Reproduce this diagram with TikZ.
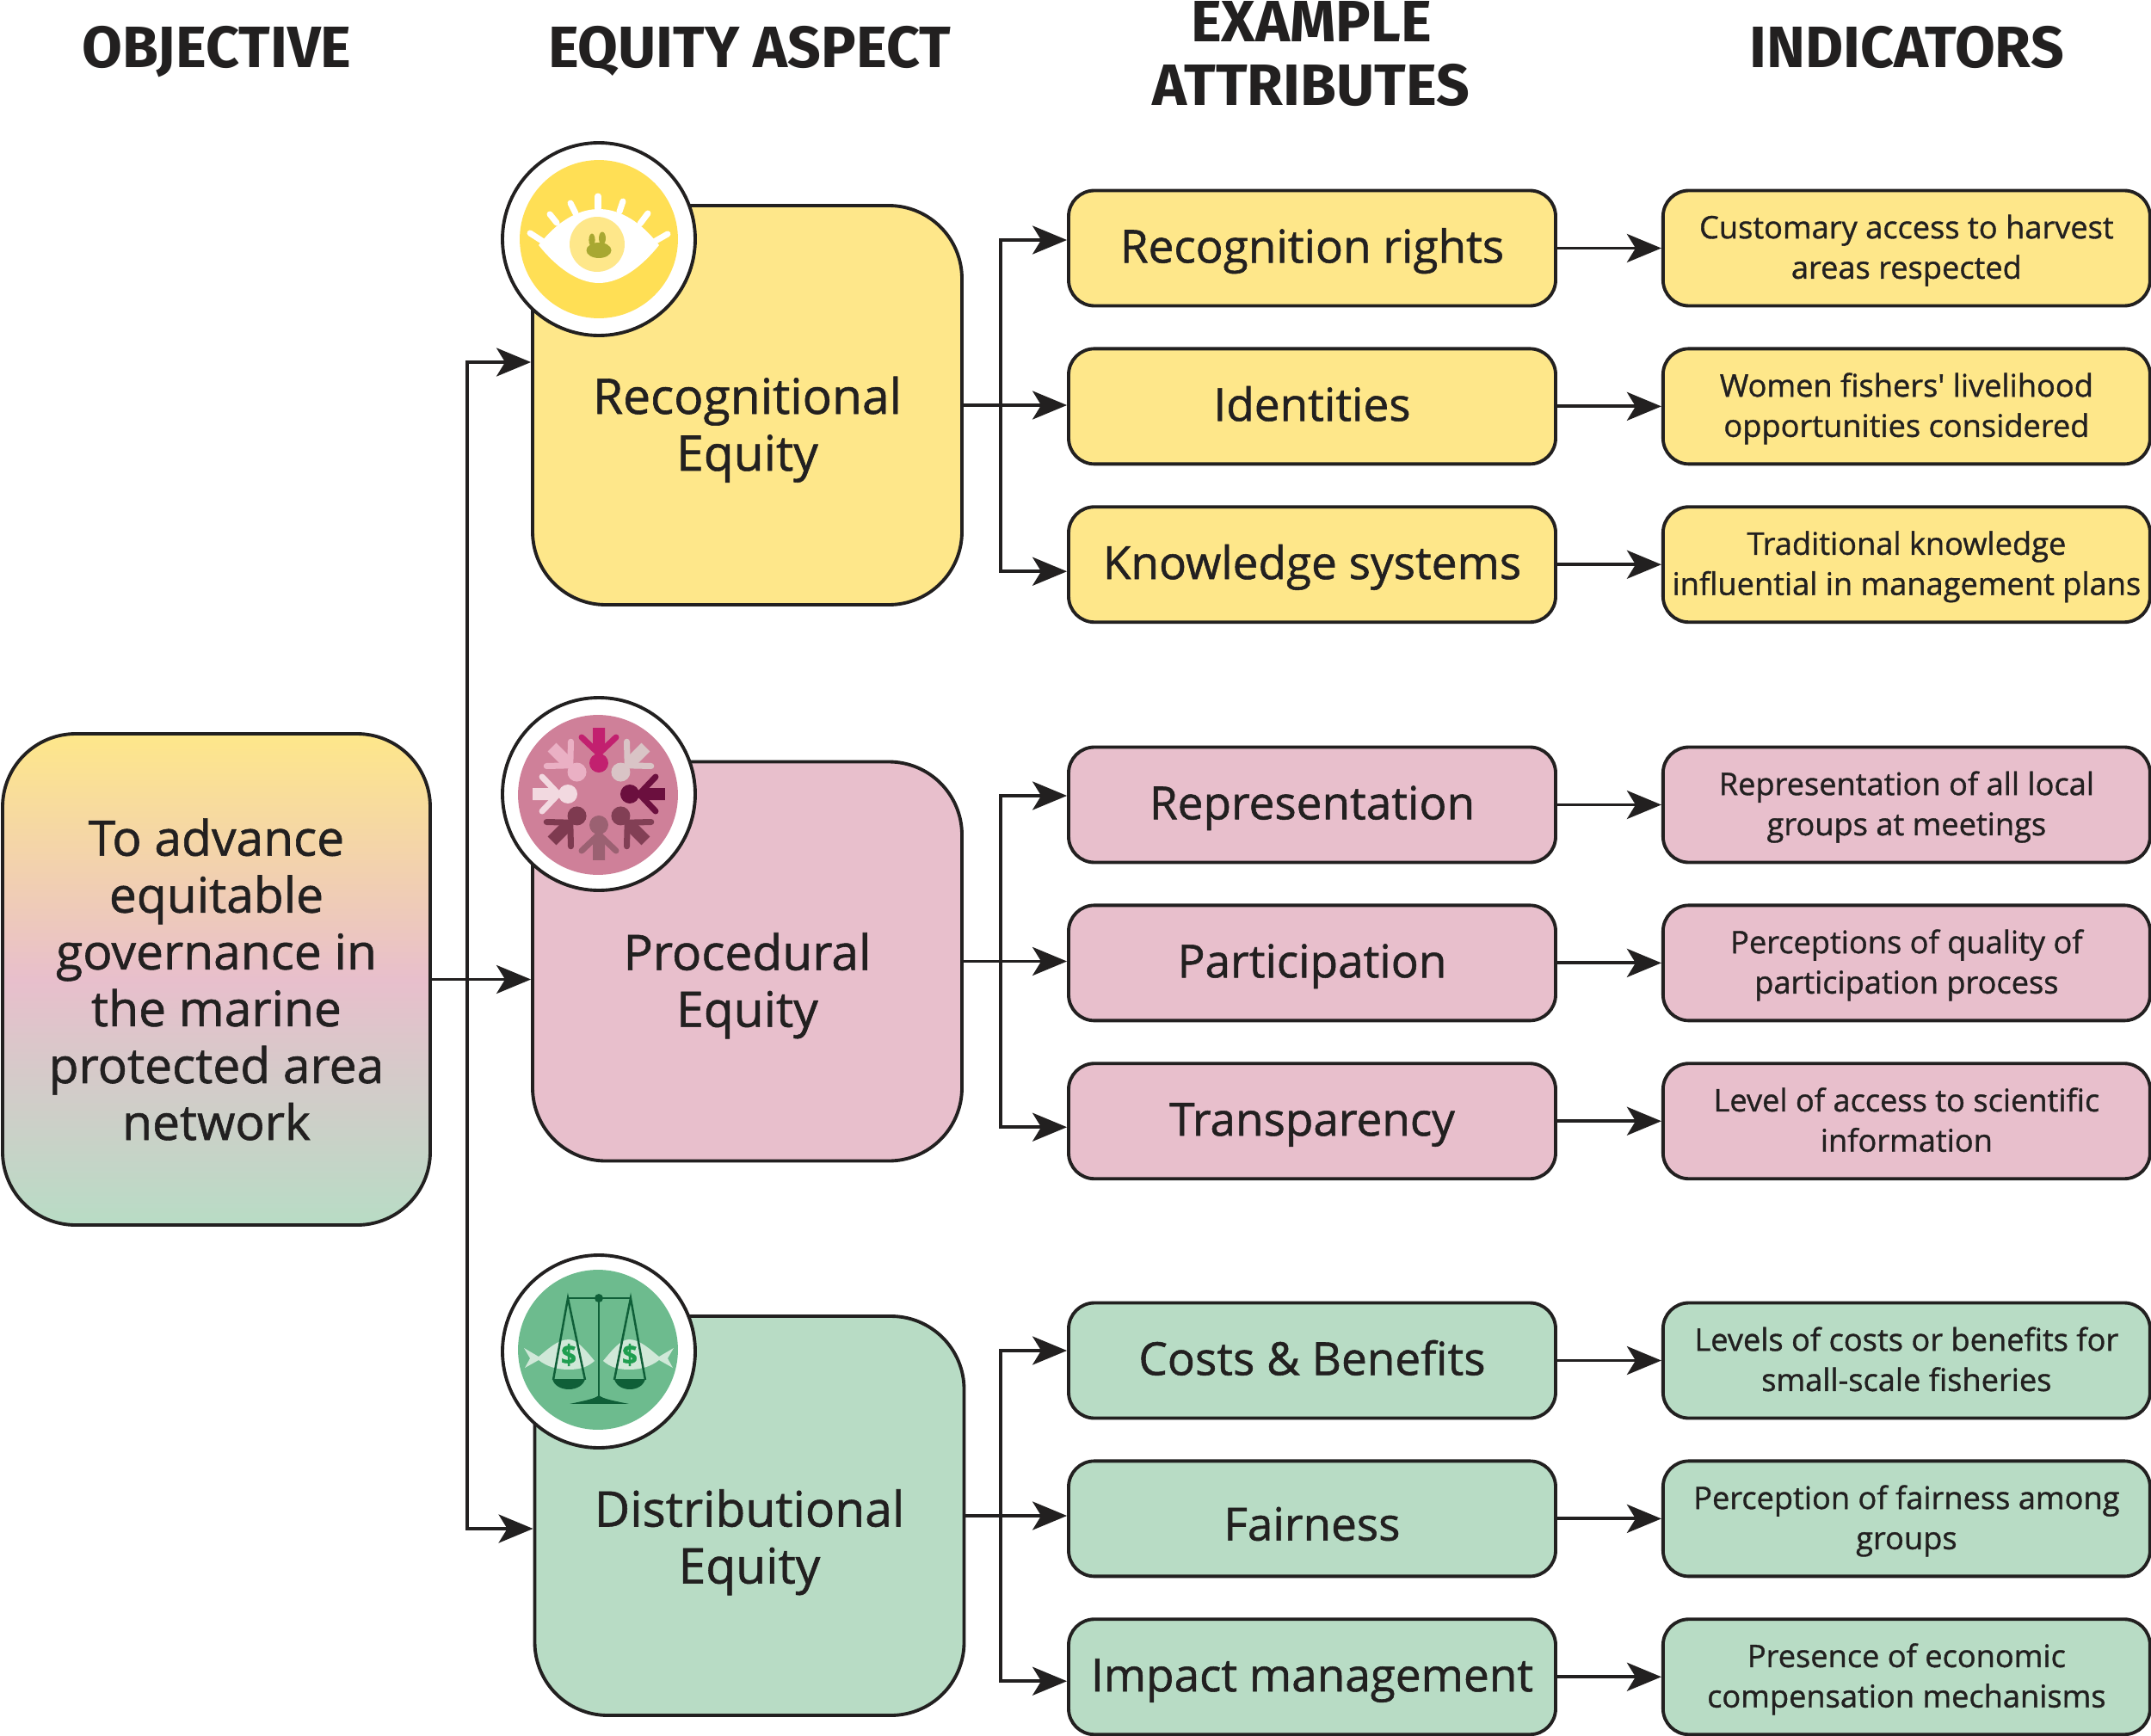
\documentclass[tikz,border=0pt]{standalone}
\usepackage{fontspec}
\setmainfont{Open Sans}[RawFeature={embolden=1}]
\newfontfamily\headfont{Fira Sans}
\usetikzlibrary{arrows.meta,positioning}
\definecolor{ink}{RGB}{34,32,32}
\definecolor{yellowbox}{RGB}{254,231,138}
\definecolor{pinkbox}{RGB}{232,191,204}
\definecolor{greenbox}{RGB}{184,220,197}
\definecolor{yellowdisc}{RGB}{255,223,85}
\definecolor{pinkdisc}{RGB}{207,128,153}
\definecolor{greendisc}{RGB}{109,187,142}
\definecolor{darkgreen}{RGB}{15,95,56}
\definecolor{olive}{RGB}{168,168,50}
\definecolor{fishlight}{RGB}{208,232,216}
\definecolor{dollargreen}{RGB}{31,158,80}
\definecolor{persona}{RGB}{194,32,111}
\definecolor{personb}{RGB}{217,196,198}
\definecolor{personc}{RGB}{107,15,62}
\definecolor{persond}{RGB}{130,63,85}
\definecolor{persone}{RGB}{155,97,114}
\definecolor{personf}{RGB}{126,58,80}
\definecolor{persong}{RGB}{242,217,224}
\definecolor{personh}{RGB}{234,176,196}
\tikzset{
  headlabel/.style={font=\headfont\bfseries\fontsize{19.3}{21}\selectfont, align=center, text=ink, inner sep=0pt},
  objbox/.style={draw=ink, line width=1.1pt, rounded corners=0.85cm, minimum width=4.97cm, minimum height=5.71cm,
    align=center, text=ink, font=\fontsize{16.2}{18.8}\selectfont, inner sep=0pt},
  eqbox/.style={draw=ink, line width=1.1pt, rounded corners=0.85cm, minimum width=4.99cm, minimum height=4.64cm,
    align=center, text=ink, font=\fontsize{16.2}{18.8}\selectfont, inner sep=0pt},
  attrbox/.style={draw=ink, line width=1.1pt, rounded corners=0.3cm, minimum width=5.66cm, minimum height=1.34cm,
    align=center, text=ink, font=\fontsize{15.1}{18.8}\selectfont, inner sep=0pt, text height=10.6pt, text depth=1pt},
  indbox/.style={draw=ink, line width=1.1pt, rounded corners=0.3cm, minimum width=5.66cm, minimum height=1.34cm,
    align=center, text=ink, font=\fontsize{10.3}{13.3}\selectfont, inner sep=0pt, text depth=1pt},
  badge/.style={circle, draw=ink, line width=1.1pt, fill=white, minimum size=2.24cm, inner sep=0pt},
  flow/.style={-{Stealth[length=4mm, width=3.3mm, inset=1mm]}, line width=1.1pt, draw=ink},
  lash/.style={white, line width=2pt, line cap=round},
  scaleline/.style={darkgreen, line width=0.7pt}
}
\newcommand{\personicon}[2]{
  \begin{scope}[rotate=#1]
    \fill[#2] (0,-36) circle (11);
    \fill[#2] (-7,-77) -- (7,-77) -- (7,-52) -- (2,-44) -- (-2,-44) -- (-7,-52) -- cycle;
    \draw[#2, line width=2pt, line cap=round] (-20,-66) -- (0,-47) -- (20,-66);
  \end{scope}
}
\begin{document}
\begin{tikzpicture}[x=1cm, y=-1cm, node distance=0.46cm and 1.21cm]
\useasboundingbox (0,0) rectangle (25,20.18);

\node[headlabel, anchor=base] (hobj) at (2.52,0.79) {OBJECTIVE};
\node[headlabel, anchor=base] (heq) at (8.71,0.79) {EQUITY ASPECT};
\node[headlabel] (hattr) at (15.24,0.625) {EXAMPLE\\ATTRIBUTES};
\node[headlabel, anchor=base] (hind) at (22.16,0.79) {INDICATORS};

\node[objbox, top color=yellowbox, bottom color=greenbox, middle color=pinkbox] (obj) at (2.515,11.385)
  {To advance\\equitable\\governance in\\the marine\\protected area\\network};

\node[eqbox, fill=yellowbox] (eqr) at (8.685,4.71) {\mbox{}\\[9.6pt]Recognitional\\Equity};
\node[eqbox, fill=pinkbox] (eqp) at (8.685,11.175) {\mbox{}\\[9.6pt]Procedural\\Equity};
\node[eqbox, fill=greenbox] (eqd) at (8.71,17.62) {\mbox{}\\[11pt]Distributional\\Equity};

\node[attrbox, fill=yellowbox] (a1) at (15.25,2.885) {Recognition rights};
\node[attrbox, fill=yellowbox, below=of a1] (a2) {Identities};
\node[attrbox, fill=yellowbox, below=of a2] (a3) {Knowledge systems};
\node[attrbox, fill=pinkbox] (a4) at (15.25,9.355) {Representation};
\node[attrbox, fill=pinkbox, below=of a4] (a5) {Participation};
\node[attrbox, fill=pinkbox, below=of a5] (a6) {Transparency};
\node[attrbox, fill=greenbox] (a7) at (15.25,15.815) {Costs \& Benefits};
\node[attrbox, fill=greenbox, below=of a7, text height=15.4pt] (a8) {Fairness};
\node[attrbox, fill=greenbox, below=of a8] (a9) {Impact management};

\node[indbox, fill=yellowbox, right=of a1] (i1) {Customary access to harvest\\areas respected};
\node[indbox, fill=yellowbox, right=of a2] (i2) {Women fishers\textquotesingle\ livelihood\\opportunities considered};
\node[indbox, fill=yellowbox, right=of a3] (i3) {Traditional knowledge\\influential in management plans};
\node[indbox, fill=pinkbox, right=of a4] (i4) {Representation of all local\\groups at meetings};
\node[indbox, fill=pinkbox, right=of a5] (i5) {Perceptions of quality of\\participation process};
\node[indbox, fill=pinkbox, right=of a6] (i6) {Level of access to scientific\\information};
\node[indbox, fill=greenbox, right=of a7] (i7) {Levels of costs or benefits for\\small-scale fisheries};
\node[indbox, fill=greenbox, right=of a8] (i8) {Perception of fairness among\\groups};
\node[indbox, fill=greenbox, right=of a9] (i9) {Presence of economic\\compensation mechanisms};

\coordinate (trunk) at (5.43,11.385);
\coordinate (brr) at (11.63,4.71);
\coordinate (brp) at (11.63,11.175);
\coordinate (brd) at (11.63,17.62);

\draw[flow] (obj.east) -- (obj.east -| eqp.west);
\draw[flow] (trunk) |- ([yshift=0.5cm]eqr.west);
\draw[flow] (trunk) |- ([yshift=-0.15cm]eqd.west);

\draw[flow] (eqr.east) -- (eqr.east -| a2.west);
\draw[flow] (brr) |- ([yshift=0.095cm]a1.west);
\draw[flow] (brr) |- ([yshift=-0.08cm]a3.west);
\draw[flow] (eqp.east) -- (eqp.east -| a5.west);
\draw[flow] (brp) |- ([yshift=0.105cm]a4.west);
\draw[flow] (brp) |- ([yshift=-0.07cm]a6.west);
\draw[flow] (eqd.east) -- (eqd.east -| a8.west);
\draw[flow] (brd) |- ([yshift=0.115cm]a7.west);
\draw[flow] (brd) |- ([yshift=-0.05cm]a9.west);

\draw[flow] (a1) -- (i1);
\draw[flow] (a2) -- (i2);
\draw[flow] (a3) -- (i3);
\draw[flow] (a4) -- (i4);
\draw[flow] (a5) -- (i5);
\draw[flow] (a6) -- (i6);
\draw[flow] (a7) -- (i7);
\draw[flow] (a8) -- (i8);
\draw[flow] (a9) -- (i9);

\node[badge] (br) at (6.96,2.78) {};
\node[badge] (bp) at (6.96,9.23) {};
\node[badge] (bd) at (6.96,15.71) {};

\begin{scope}[shift={(br.center)}, x=0.01cm, y=-0.01cm]
  \fill[yellowdisc] (0,0) circle (92);
  \fill[white] (-70,7) .. controls (-45,-25) and (-20,-35) .. (0,-35) .. controls (20,-35) and (45,-25) .. (70,7)
    .. controls (50,32) and (25,51) .. (0,51) .. controls (-25,51) and (-50,32) .. (-70,7) -- cycle;
  \fill[yellowbox] (-2,6) circle (32);
  \fill[olive] (0,13) ellipse (14.5 and 9);
  \fill[olive] (-8,1) ellipse (3.6 and 7.5);
  \fill[olive] (4,-1) ellipse (4 and 7.5);
  \draw[lash] (-1,-50) -- (-1,-36);
  \draw[lash] (-33,-42) -- (-27,-30);
  \draw[lash] (-57,-29) -- (-49,-19);
  \draw[lash] (-80,-7) -- (-66,2);
  \draw[lash] (28,-44) -- (24,-32);
  \draw[lash] (57,-30) -- (48,-18);
  \draw[lash] (80,-6) -- (66,2);
\end{scope}

\begin{scope}[shift={(bp.center)}, x=0.01cm, y=-0.01cm]
  \fill[pinkdisc] (-1,1) circle (93);
  \personicon{0}{persona}
  \personicon{-45}{personb}
  \personicon{-90}{personc}
  \personicon{-135}{persond}
  \personicon{180}{persone}
  \personicon{135}{personf}
  \personicon{90}{persong}
  \personicon{45}{personh}
\end{scope}

\begin{scope}[shift={(bd.center)}, x=0.01cm, y=-0.01cm]
  \fill[greendisc] (-1,-2) circle (93);
  \fill[fishlight] (-5,11) .. controls (-14,0) and (-25,-14) .. (-35,-14) .. controls (-48,-14) and (-60,-2) .. (-70,6)
    -- (-87,-4) -- (-80,8) -- (-86,19) -- (-70,10) .. controls (-60,18) and (-48,21) .. (-35,21) .. controls (-20,21) and (-12,17) .. (-5,11) -- cycle;
  \fill[fishlight] (5,11) .. controls (14,0) and (25,-14) .. (35,-14) .. controls (48,-14) and (60,-2) .. (70,6)
    -- (87,-4) -- (80,8) -- (86,19) -- (70,10) .. controls (60,18) and (48,21) .. (35,21) .. controls (20,21) and (12,17) .. (5,11) -- cycle;
  \draw[scaleline] (-36,-62) -- (37,-62);
  \draw[scaleline] (0,-62) -- (0,53);
  \fill[darkgreen] (0,-62) circle (5);
  \fill[darkgreen] (-34,61) .. controls (-15,57) and (-5,55) .. (0,51) .. controls (5,55) and (15,57) .. (35,61) -- cycle;
  \draw[scaleline] (-53,33) -- (-36,-62) -- (-16,33);
  \draw[scaleline] (18,33) -- (37,-62) -- (54,33);
  \fill[darkgreen] (-54,32) .. controls (-50,48) and (-20,48) .. (-16,32) -- cycle;
  \fill[darkgreen] (18,32) .. controls (22,48) and (50,48) .. (54,32) -- cycle;
  \node[font=\bfseries\fontsize{9}{9}\selectfont, text=dollargreen, inner sep=0pt] (dl) at (-35,4) {\$};
  \node[font=\bfseries\fontsize{9}{9}\selectfont, text=dollargreen, inner sep=0pt] (dr) at (36,4) {\$};
\end{scope}
\end{tikzpicture}
\end{document}
